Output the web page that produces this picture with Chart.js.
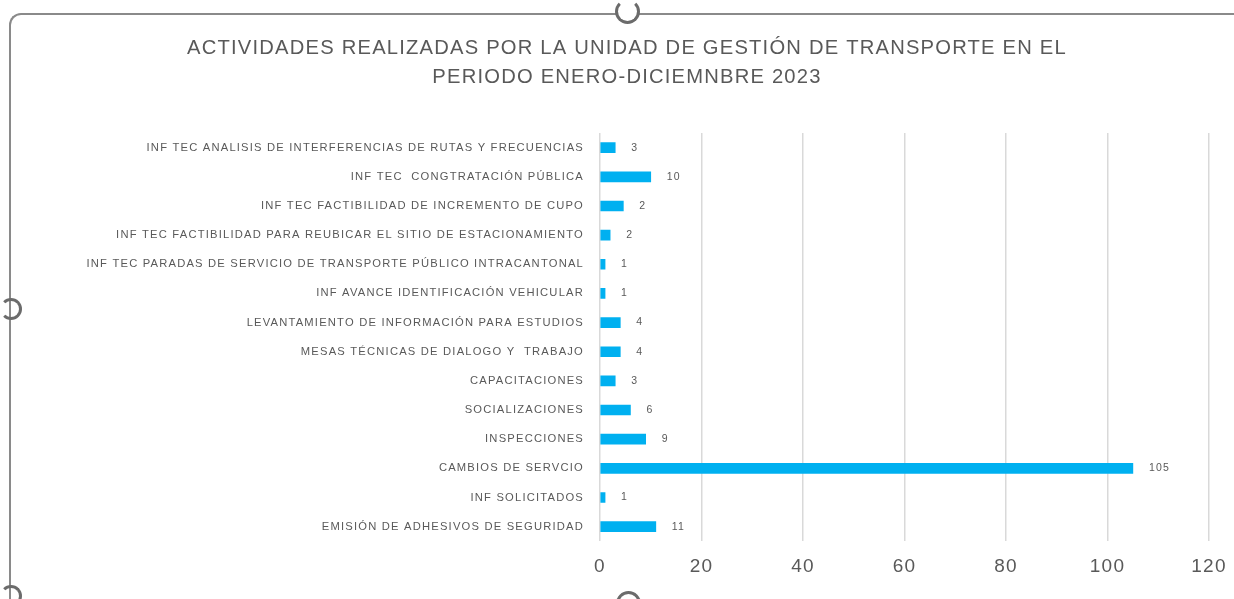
<!DOCTYPE html>
<html>
<head>
<meta charset="utf-8">
<script src="https://cdn.jsdelivr.net/npm/chart.js@4.4.1/dist/chart.umd.min.js"></script>
<style>
  html, body { margin: 0; padding: 0; background: #fff; }
  #wrap { position: relative; width: 1234px; height: 599px; overflow: hidden; }
  #chart { position: absolute; left: 0; top: 0; }
  #frame { position: absolute; left: 9px; top: 13px; width: 1300px; height: 700px;
           border-left: 2.5px solid #8a8a8a; border-top: 2.5px solid #8a8a8a;
           border-top-left-radius: 12px; pointer-events: none; }
  .handle { position: absolute; box-sizing: border-box; border-radius: 50%;
            border: 3px solid #6b6b6b; background: #fff; pointer-events: none; }
</style>
</head>
<body>
<div id="wrap">
  <canvas id="chart" width="1234" height="599"></canvas>
  <div id="frame"></div>
  <div class="handle" style="left:615px; top:-1px; width:25px; height:25px; border-top-color:transparent;"></div>
  <div class="handle" style="left:0px; top:298px; width:22px; height:22px; border-left-color:transparent; background:transparent;"></div>
  <div class="handle" style="left:616px; top:591px; width:25px; height:25px; border-bottom-color:transparent;"></div>
  <div class="handle" style="left:0px; top:585px; width:22px; height:22px; border-left-color:transparent; border-bottom-color:transparent; background:transparent;"></div>
</div>
<script>
// datos del grafico
const titleLines = [
  'ACTIVIDADES REALIZADAS POR LA UNIDAD DE GESTIÓN DE TRANSPORTE EN EL',
  'PERIODO ENERO-DICIEMNBRE 2023'
];
const categories = [
  'INF TEC ANALISIS DE INTERFERENCIAS DE RUTAS Y FRECUENCIAS',
  'INF TEC  CONGTRATACIÓN PÚBLICA',
  'INF TEC FACTIBILIDAD DE INCREMENTO DE CUPO',
  'INF TEC FACTIBILIDAD PARA REUBICAR EL SITIO DE ESTACIONAMIENTO',
  'INF TEC PARADAS DE SERVICIO DE TRANSPORTE PÚBLICO INTRACANTONAL',
  'INF AVANCE IDENTIFICACIÓN VEHICULAR',
  'LEVANTAMIENTO DE INFORMACIÓN PARA ESTUDIOS',
  'MESAS TÉCNICAS DE DIALOGO Y  TRABAJO',
  'CAPACITACIONES',
  'SOCIALIZACIONES',
  'INSPECCIONES',
  'CAMBIOS DE SERVCIO',
  'INF SOLICITADOS',
  'EMISIÓN DE ADHESIVOS DE SEGURIDAD'
];
// largo de cada barra (la tercera se ve mas larga que su etiqueta "2")
const values = [3, 10, 4.6, 2, 1, 1, 4, 4, 3, 6, 9, 105, 1, 11];
// texto de las etiquetas de datos tal como aparecen
const dataLabelTexts = ['3', '10', '2', '2', '1', '1', '4', '4', '3', '6', '9', '105', '1', '11'];
const xTicks = [0, 20, 40, 60, 80, 100, 120];

const textColor = '#595959';

// espaciado de letras para parecerse al texto de Excel
const letterSpacing = {
  id: 'letterSpacing',
  beforeUpdate(chart) { chart.ctx.letterSpacing = '1.2px'; },
  beforeDraw(chart) { chart.ctx.letterSpacing = '1.2px'; }
};

// etiquetas a la derecha de cada barra
const valueLabels = {
  id: 'valueLabels',
  afterDatasetsDraw(chart) {
    const ctx = chart.ctx;
    const meta = chart.getDatasetMeta(0);
    ctx.save();
    ctx.font = '10.5px "Liberation Sans"';
    ctx.fillStyle = textColor;
    ctx.textAlign = 'left';
    ctx.textBaseline = 'middle';
    meta.data.forEach((bar, i) => {
      ctx.fillText(dataLabelTexts[i], bar.x + 16, bar.y);
    });
    ctx.restore();
  }
};

new Chart(document.getElementById('chart'), {
  type: 'bar',
  data: {
    labels: categories,
    datasets: [{
      data: values,
      backgroundColor: '#00B0F0',
      borderWidth: 0,
      barThickness: 10
    }]
  },
  options: {
    indexAxis: 'y',
    responsive: false,
    animation: false,
    layout: { padding: { left: 45, right: 25, top: 0, bottom: 7 } },
    plugins: {
      legend: { display: false },
      tooltip: { enabled: false },
      title: {
        display: true,
        text: titleLines,
        color: textColor,
        font: { family: 'Liberation Sans', size: 20.2, weight: 'normal', lineHeight: 1.45 },
        padding: { top: 33.5, bottom: 41 }
      }
    },
    scales: {
      x: {
        min: xTicks[0],
        max: xTicks[xTicks.length - 1],
        afterFit(scale) { scale.paddingRight = 0; },
        ticks: {
          stepSize: xTicks[1] - xTicks[0],
          color: textColor,
          font: { family: 'Liberation Sans', size: 19 },
          padding: 14
        },
        grid: { color: '#D9D9D9', lineWidth: 1.5, drawTicks: false },
        border: { display: false }
      },
      y: {
        afterFit(scale) { scale.width = 555; },
        ticks: {
          color: textColor,
          font: { family: 'Liberation Sans', size: 11.2 },
          padding: 16,
          autoSkip: false
        },
        grid: { display: false, drawTicks: false },
        border: { display: false }
      }
    }
  },
  plugins: [letterSpacing, valueLabels]
});
</script>
</body>
</html>
